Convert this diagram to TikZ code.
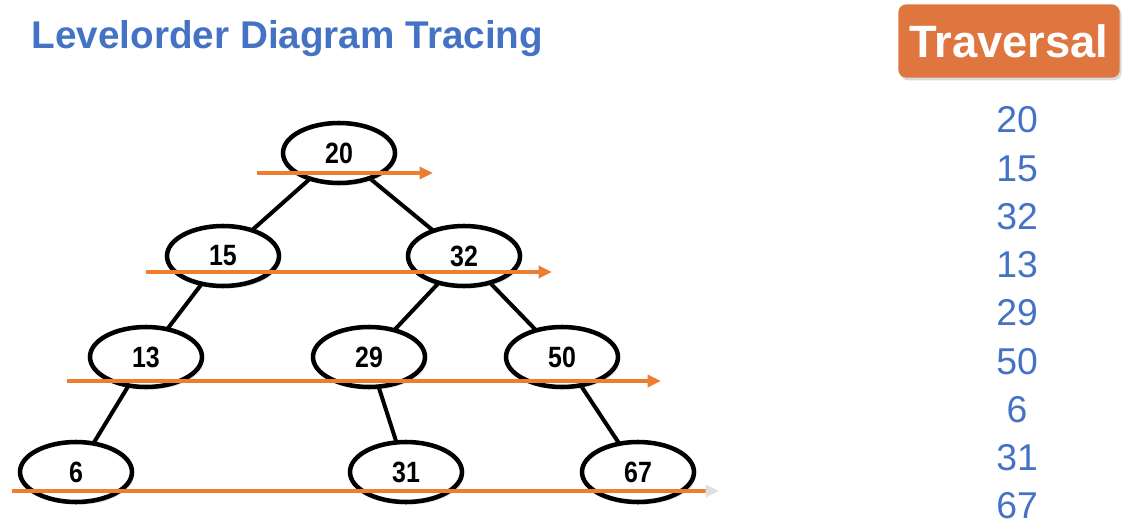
\documentclass[tikz,border=0pt]{standalone}
\usepackage{fontspec}
\setmainfont{Liberation Sans}
\newfontfamily\nodefont[FakeStretch=0.85]{Liberation Sans}
\usetikzlibrary{shapes.geometric,arrows.meta,shadows}
\pgfdeclarelayer{bg}
\pgfsetlayers{bg,main}
\definecolor{titleblue}{HTML}{4472C4}
\definecolor{boxorange}{HTML}{E0763F}
\definecolor{linorange}{HTML}{ED7D31}
\tikzset{
  tnode/.style={ellipse,draw=black,line width=3.4pt,fill=white,minimum width=84pt,minimum height=45pt,inner sep=0pt,
    font=\nodefont\fontsize{22}{22}\selectfont\bfseries,
    drop shadow={opacity=0.25,shadow xshift=1.5pt,shadow yshift=-2pt}},
  tedge/.style={line width=3pt,black},
  lvl/.style={line width=2.8pt,linorange,-{Triangle[length=10pt,width=9pt]}},
  lvlfade/.style={line width=2.8pt,linorange,-{Triangle[length=10pt,width=9pt,color=gray!25]}},
  trav/.style={text=titleblue,font=\fontsize{28}{28}\selectfont,anchor=center}
}
\begin{document}
\begin{tikzpicture}[x=0.75pt,y=-0.75pt]
\useasboundingbox (0,0) rectangle (1148,527);
% title
\node[anchor=west,text=titleblue,font=\fontsize{29}{29}\selectfont\bfseries] (title) at (27,39) {Levelorder Diagram Tracing};
% traversal box
\node[fill=boxorange,rounded corners=6pt,minimum width=166pt,minimum height=55pt,inner sep=0pt,
  text=white,font=\fontsize{34}{34}\selectfont\bfseries,
  drop shadow={opacity=0.3,shadow xshift=1.5pt,shadow yshift=-2pt}] (tbox) at (1009,41) {Traversal};
% list
\node[trav] (t1) at (1017,120) {20};
\node[trav] (t2) at (1017,169) {15};
\node[trav] (t3) at (1017,217) {32};
\node[trav] (t4) at (1017,265) {13};
\node[trav] (t5) at (1017,313) {29};
\node[trav] (t6) at (1017,362) {50};
\node[trav] (t7) at (1017,410) {6};
\node[trav] (t8) at (1017,458) {31};
\node[trav] (t9) at (1017,506) {67};
% tree nodes
\node[tnode] (n20) at (339,153) {20};
\node[tnode] (n15) at (223,256) {15};
\node[tnode] (n32) at (464,256) {32};
\node[tnode] (n13) at (146,357) {13};
\node[tnode] (n29) at (369,357) {29};
\node[tnode] (n50) at (562,357) {50};
\node[tnode] (n6) at (76,472) {6};
\node[tnode] (n31) at (406,472) {31};
\node[tnode] (n67) at (638,472) {67};
% edges (behind nodes)
\begin{pgfonlayer}{bg}
\draw[tedge] (n20.center) -- (n15.center);
\draw[tedge] (n20.center) -- (n32.center);
\draw[tedge] (n15.center) -- (n13.center);
\draw[tedge] (n32.center) -- (n29.center);
\draw[tedge] (n32.center) -- (n50.center);
\draw[tedge] (n13.center) -- (n6.center);
\draw[tedge] (n29.center) -- (n31.center);
\draw[tedge] (n50.center) -- (n67.center);
\end{pgfonlayer}
% level arrows
\coordinate (a1s) at (257,173); \coordinate (a1e) at (433,173);
\coordinate (a2s) at (146,272); \coordinate (a2e) at (552,272);
\coordinate (a3s) at (67,381);  \coordinate (a3e) at (661,381);
\coordinate (a4s) at (12,491);  \coordinate (a4e) at (719,491);
\draw[lvl] (a1s) -- (a1e);
\draw[lvl] (a2s) -- (a2e);
\draw[lvl] (a3s) -- (a3e);
\draw[lvlfade] (a4s) -- (a4e);
\end{tikzpicture}
\end{document}
